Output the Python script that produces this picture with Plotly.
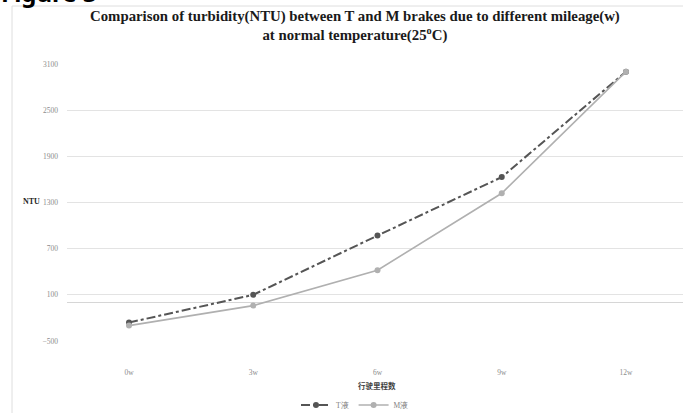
import plotly.graph_objects as go

# ---- data ----
categories = ["0w", "3w", "6w", "9w", "12w"]
t_values = [-260, 100, 870, 1630, 3000]
m_values = [-300, -40, 420, 1420, 3000]
series_names = ["T液", "M液"]
y_ticks = [-500, 100, 700, 1300, 1900, 2500, 3100]

W, H = 683, 413
L, R, T, B = 67, 0, 64, 72
PW, PH = W - L - R, H - T - B


def px(x):
    return (x - L) / PW


def py(y):
    return (H - B - y) / PH


SERIF = "Liberation Serif, Times New Roman, serif"

fig = go.Figure()
fig.add_trace(go.Scatter(
    x=categories, y=t_values, name=series_names[0], mode="lines+markers",
    line=dict(color="#555555", width=2, dash="dashdot"),
    marker=dict(symbol="circle", size=6, color="#555555"),
))
fig.add_trace(go.Scatter(
    x=categories, y=m_values, name=series_names[1], mode="lines+markers",
    line=dict(color="#b0b0b0", width=1.6),
    marker=dict(symbol="circle", size=6, color="#b0b0b0"),
))

fig.update_layout(
    width=W, height=H,
    margin=dict(l=L, r=R, t=T, b=B, autoexpand=False),
    paper_bgcolor="white", plot_bgcolor="white",
    showlegend=True,
    legend=dict(orientation="h", x=px(355), y=py(405), xanchor="center", yanchor="middle",
                font=dict(family=SERIF, size=7.5, color="#7f7f7f"),
                bgcolor="rgba(0,0,0,0)", tracegroupgap=0),
    xaxis=dict(type="category", range=[-0.499, 4.459], showgrid=False, zeroline=False,
               showline=False, ticks="", ticklabelstandoff=25,
               tickfont=dict(family=SERIF, size=7.5, color="#8c8c8c")),
    yaxis=dict(range=[-500, 3100], tickvals=y_ticks, showgrid=True, gridcolor="#e3e3e3",
               gridwidth=1, zeroline=True, zerolinecolor="#d6d6d6", zerolinewidth=1,
               showline=False, ticks="", ticklabelstandoff=8,
               tickfont=dict(family=SERIF, size=7.5, color="#8c8c8c")),
    shapes=[dict(type="rect", xref="paper", yref="paper",
                 x0=px(12), x1=px(700), y0=py(440), y1=py(6),
                 line=dict(color="#dedede", width=1), fillcolor="rgba(0,0,0,0)",
                 layer="below")],
    annotations=[
        dict(text="Figure 3", xref="paper", yref="paper", x=px(-1), y=py(-8),
             xanchor="left", yanchor="middle", showarrow=False,
             font=dict(family="Noto Sans, sans-serif", size=24, color="black", weight="bold")),
        dict(text="<b>Comparison of turbidity(NTU) between T and M brakes due to different mileage(w)"
                  "<br>at normal temperature(25<sup>o</sup>C)</b>",
             xref="paper", yref="paper", x=px(355), y=py(26), xanchor="center", yanchor="middle",
             showarrow=False, font=dict(family=SERIF, size=14.8, color="#1a1a1a")),
        dict(text="<b>NTU</b>", xref="paper", yref="paper", x=px(31), y=py(201),
             xanchor="center", yanchor="middle", showarrow=False,
             font=dict(family=SERIF, size=8, color="#262626")),
        dict(text="<b>行驶里程数</b>", xref="paper", yref="paper", x=px(377), y=py(385),
             xanchor="center", yanchor="middle", showarrow=False,
             font=dict(family="Noto Sans CJK SC, sans-serif", size=7.5, color="#404040")),
    ],
)

fig.write_html("out.html", config={"displayModeBar": False},
               post_script="document.body.style.margin='0';document.body.style.overflow='hidden';")
